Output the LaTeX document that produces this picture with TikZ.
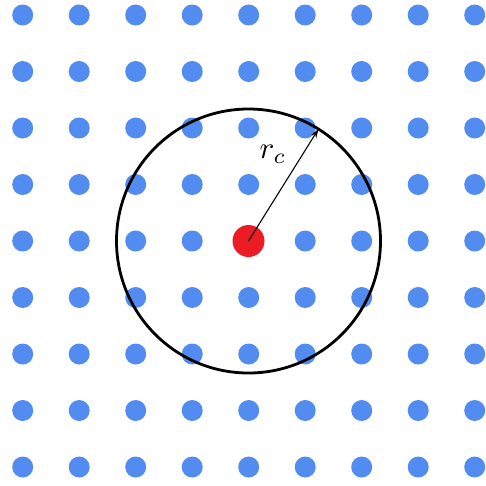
\documentclass[tikz,border=0pt]{standalone}
\usepackage{tikz}
\usetikzlibrary{arrows.meta, positioning, calc}

\definecolor{latticeblue}{RGB}{82,140,240}
\definecolor{probered}{RGB}{236,28,36}

\begin{document}
\begin{tikzpicture}[
  x=1pt, y=-1pt,
  dot/.style={
    circle,
    fill=latticeblue,
    inner sep=0pt,
    minimum size=21pt
  },
  probe/.style={
    circle,
    fill=probered,
    inner sep=0pt,
    minimum size=32pt
  },
  ring/.style={
    draw=black,
    line width=2.8pt
  },
  arrow/.style={
    draw=black,
    -{Stealth[length=9pt,width=6pt]},
    line width=1.1pt
  }
]
\useasboundingbox (0,0) rectangle (486,485);

% Lattice of particles
\foreach \i in {0,...,8} {
  \foreach \j in {0,...,8} {
    \ifnum\i=4 \ifnum\j=4 \else
      \node[dot] (d-\i-\j) at ({22.7+56.5*\i},{15+56.5*\j}) {};
    \fi \else
      \node[dot] (d-\i-\j) at ({22.7+56.5*\i},{15+56.5*\j}) {};
    \fi
  }
}

% Central particle and cutoff circle
\node[probe] (center) at (248.5,241) {};
\draw[ring] (center.center) circle[radius=132];

% Cutoff radius
\coordinate (rim) at ($(center.center)+(-58:132)$);
\draw[arrow] (center.center) -- (rim);
\node[scale=3.1] (rc) at (273,154) {$r_c$};

\end{tikzpicture}
\end{document}
